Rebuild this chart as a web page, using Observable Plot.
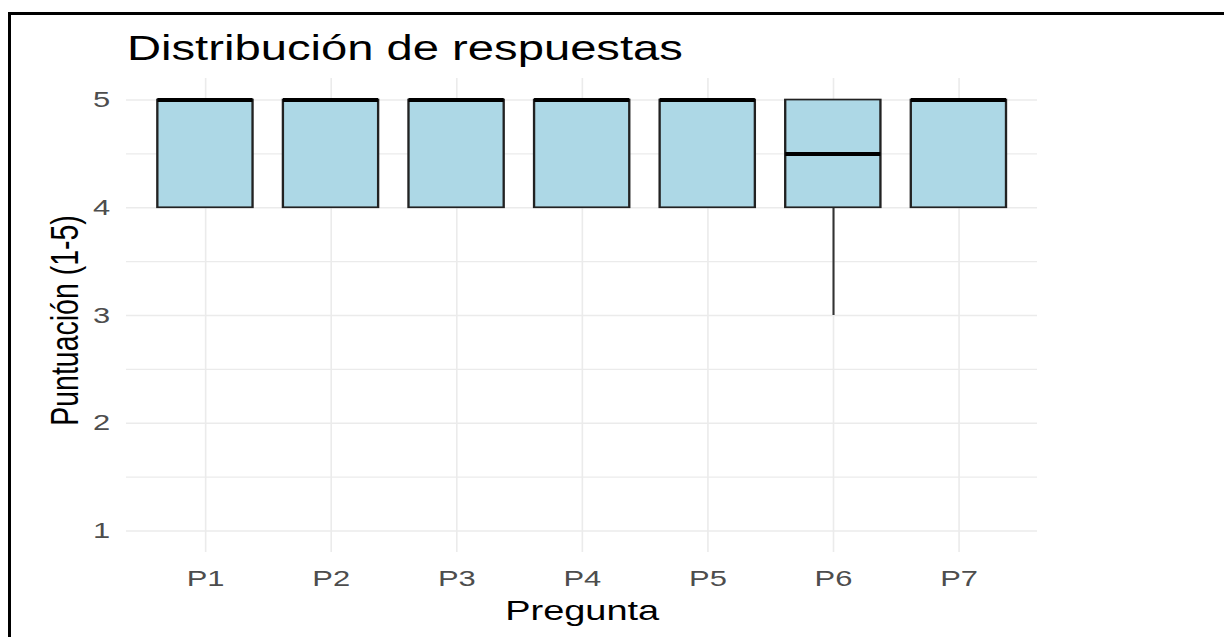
<!DOCTYPE html>
<html><head><meta charset="utf-8">
<script src="https://cdn.jsdelivr.net/npm/d3@7"></script>
<script src="https://cdn.jsdelivr.net/npm/@observablehq/plot@0.6"></script>
<style>
html,body{margin:0;padding:0;background:#fff;overflow:hidden;width:1224px;height:637px;}
#fig{position:absolute;left:0;top:0;width:887px;height:637px;transform:scaleX(1.38);transform-origin:0 0;font-family:"Liberation Sans",Arial,sans-serif;}
#title{box-sizing:border-box;height:70px;padding-top:30.6px;padding-left:92px;font-size:34.2px;line-height:34.2px;color:#000;white-space:nowrap;}
#chart svg{display:block;}
#frame{position:absolute;left:8px;top:12px;width:1300px;height:700px;border-left:3px solid #000;border-top:3px solid #000;box-sizing:border-box;pointer-events:none;}
</style></head><body>
<div id="fig"><div id="title">Distribución de respuestas</div><div id="chart"></div></div>
<div id="frame"></div>
<script>
// Data
const preguntas = ["P1", "P2", "P3", "P4", "P5", "P6", "P7"];
const q1        = [4, 4, 4, 4, 4, 4, 4];
const mediana   = [5, 5, 5, 5, 5, 4.5, 5];
const q3        = [5, 5, 5, 5, 5, 5, 5];
const bigoteInf = [4, 4, 4, 4, 4, 3, 4];
const bigoteSup = [5, 5, 5, 5, 5, 5, 5];
const yTicks    = [1, 2, 3, 4, 5];
const yMinor    = [1.5, 2.5, 3.5, 4.5];

const tabla = preguntas.map((p, i) => ({
  p, q1: q1[i], mediana: mediana[i], q3: q3[i], lo: bigoteInf[i], hi: bigoteSup[i]
}));

const S = 1.38;
const W = 1224 / S;
const grid = "#EBEBEB";

const chart = Plot.plot({
  width: W,
  height: 567,
  marginTop: 8,
  marginBottom: 85,
  marginLeft: 126 / S,
  marginRight: (1224 - 1037) / S,
  style: {background: "transparent", fontFamily: "'Liberation Sans', Arial, sans-serif"},
  x: {domain: preguntas, paddingInner: 0.24, paddingOuter: 0.22, align: 0.5},
  y: {domain: [0.8, 5.2]},
  marks: [
    Plot.gridY(yMinor, {stroke: grid, strokeOpacity: 1, strokeWidth: 1.1}),
    Plot.gridY(yTicks, {stroke: grid, strokeOpacity: 1, strokeWidth: 1.6}),
    Plot.gridX(preguntas, {stroke: grid, strokeOpacity: 1, strokeWidth: 1.6 / S}),
    Plot.axisY(yTicks, {tickSize: 0, tickPadding: 12, fontSize: 22.4, color: "#4D4D4D", label: null, tickFormat: (d) => String(d)}),
    Plot.axisX({tickSize: 0, tickPadding: 18, fontSize: 22.4, color: "#4D4D4D", label: null}),
    Plot.ruleX(tabla, {x: "p", y1: "lo", y2: "q1", stroke: "#333", strokeWidth: 1.5}),
    Plot.ruleX(tabla, {x: "p", y1: "q3", y2: "hi", stroke: "#333", strokeWidth: 1.5}),
    Plot.barY(tabla, {x: "p", y1: "q1", y2: "q3", fill: "#ADD8E6", stroke: "#222", strokeWidth: 1.7}),
    Plot.tickY(tabla, {x: "p", y: "mediana", stroke: "#000", strokeWidth: 4}),
    Plot.text(["Pregunta"], {frameAnchor: "bottom", textAnchor: "middle", lineAnchor: "top", dy: 47.5, fontSize: 27.5, fill: "#000"}),
    Plot.text(["Puntuación (1-5)"], {frameAnchor: "left", textAnchor: "middle", rotate: -90, lineAnchor: "bottom", dx: 77 / S - 126 / S, dy: 5, fontSize: 28.5, fill: "#000"})
  ]
});
document.getElementById("chart").appendChild(chart);
</script>
</body></html>
